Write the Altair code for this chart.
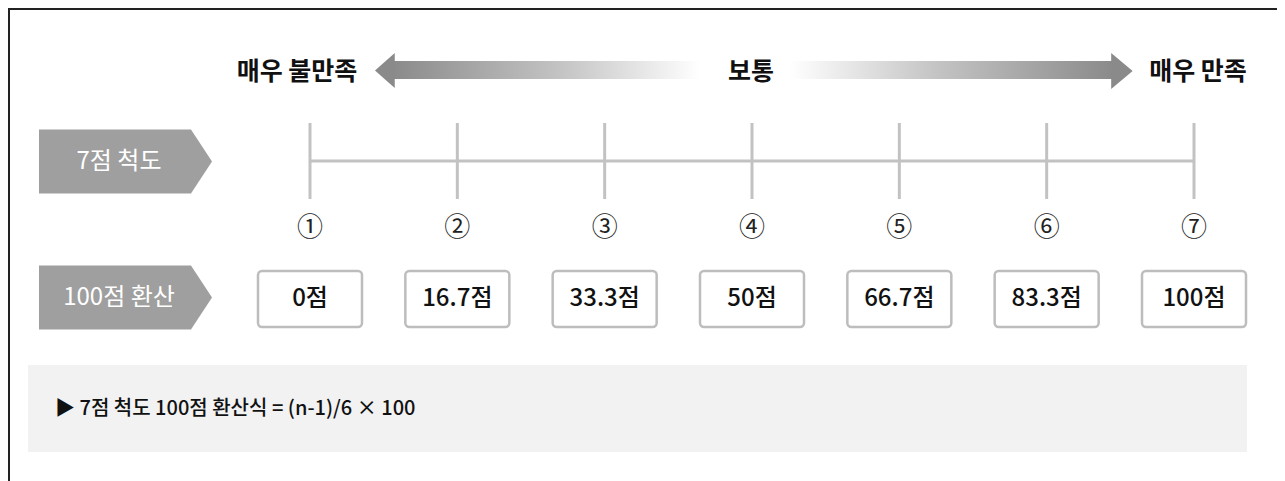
import altair as alt
import pandas as pd

# ---------------- data ----------------
scale_points = [1, 2, 3, 4, 5, 6, 7]
circled = ["①", "②", "③", "④", "⑤", "⑥", "⑦"]
converted = ["0점", "16.7점", "33.3점", "50점", "66.7점", "83.3점", "100점"]
top_labels = ["매우 불만족", "보통", "매우 만족"]
top_anchor = [1, 4, 7]
row_labels = ["7점 척도", "100점 환산"]
formula = "▶ 7점 척도 100점 환산식 = (n-1)/6 × 100"

# ---------------- layout ----------------
W, H = 1269, 473
P1 = 302.0            # plot px of scale point 1
STEP = 884.0 / 6      # px between scale points
FONT = "Noto Sans CJK KR"


def u(px):  # screen px -> scale unit
    return 1 + (px - 8 - P1) / STEP


def v(py):  # screen py -> plot py
    return py - 8


xs = alt.Scale(domain=[u(8), u(8 + W)], nice=False, zero=False)
ys = alt.Scale(domain=[0, H], reverse=True, nice=False, zero=False)


def X(f):
    return alt.X(f, type="quantitative", scale=xs, axis=None)


def Y(f):
    return alt.Y(f, type="quantitative", scale=ys, axis=None)


one = pd.DataFrame({"k": [0]})

# frame (top + left)
frame_top = alt.Chart(one).mark_rule(color="#222", strokeWidth=2).encode(
    x=alt.value(0), x2=alt.value(W), y=alt.value(1))
frame_left = alt.Chart(one).mark_rule(color="#222", strokeWidth=2).encode(
    x=alt.value(1), y=alt.value(0), y2=alt.value(H))

# formula box
fbox_df = pd.DataFrame({"x": [u(28)], "x2": [u(1247)], "y": [v(365)], "y2": [v(452)]})
fbox = alt.Chart(fbox_df).mark_rect(color="#f2f2f2").encode(
    x=X("x"), x2="x2", y=Y("y"), y2="y2")
ftext = alt.Chart(pd.DataFrame({"t": [formula], "x": [u(55)], "y": [v(409)]})).mark_text(
    align="left", baseline="middle", font=FONT, fontSize=20, fontWeight=500, color="#111"
).encode(x=X("x"), y=Y("y"), text="t:N")

# gradient arrow shafts
grad_left = alt.Gradient(gradient="linear", x1=0, x2=1, y1=0, y2=0, stops=[
    alt.GradientStop(color="#8a8a8a", offset=0),
    alt.GradientStop(color="#c4c4c4", offset=0.55),
    alt.GradientStop(color="#ffffff", offset=1)])
grad_right = alt.Gradient(gradient="linear", x1=0, x2=1, y1=0, y2=0, stops=[
    alt.GradientStop(color="#ffffff", offset=0),
    alt.GradientStop(color="#c4c4c4", offset=0.45),
    alt.GradientStop(color="#8a8a8a", offset=1)])
shaft_l = alt.Chart(pd.DataFrame({"x": [u(392)], "x2": [u(700)], "y": [v(61)], "y2": [v(79)]})).mark_rect(
    color=grad_left).encode(x=X("x"), x2="x2", y=Y("y"), y2="y2")
shaft_r = alt.Chart(pd.DataFrame({"x": [u(790)], "x2": [u(1114)], "y": [v(61)], "y2": [v(79)]})).mark_rect(
    color=grad_right).encode(x=X("x"), x2="x2", y=Y("y"), y2="y2")
head_l = alt.Chart(pd.DataFrame({"x": [u(393)], "y": [v(70.5)]})).mark_point(
    shape="M0.1,-1 L-1.03,0 L0.1,1 Z", size=35 * 35, filled=True, opacity=1,
    color="#8a8a8a", strokeWidth=0).encode(x=X("x"), y=Y("y"))
head_r = alt.Chart(pd.DataFrame({"x": [u(1113)], "y": [v(71)]})).mark_point(
    shape="M-0.1,-1 L1.09,0 L-0.1,1 Z", size=36 * 36, filled=True, opacity=1,
    color="#8a8a8a", strokeWidth=0).encode(x=X("x"), y=Y("y"))

# top labels
top_df = pd.DataFrame({"t": top_labels, "n": top_anchor, "off": [-13 / STEP, -1 / STEP, 4 / STEP]})
top_text = alt.Chart(top_df).transform_calculate(xx="datum.n + datum.off", yy=str(v(72))).mark_text(
    align="center", baseline="middle", font=FONT, fontSize=25, fontWeight="bold", color="#111"
).encode(x=X("xx"), y=Y("yy"), text="t:N")

# row label pentagons
pent_df = pd.DataFrame({"t": row_labels, "y": [v(161.5), v(297.5)]})
pent = alt.Chart(pent_df).transform_calculate(xx=str(u(125.5))).mark_point(
    shape="M-1,-0.37 L0.757,-0.37 L1,0 L0.757,0.37 L-1,0.37 Z", size=173 * 173,
    filled=True, opacity=1, color="#9f9f9f", strokeWidth=0
).encode(x=X("xx"), y=Y("y"))
pent_text = alt.Chart(pent_df).transform_calculate(xx=str(u(119))).mark_text(
    align="center", baseline="middle", font=FONT, fontSize=24, color="#ffffff"
).encode(x=X("xx"), y=Y("y"), text="t:N")

# scale line and ticks
pts_df = pd.DataFrame({"n": scale_points, "c": circled, "lab": converted})
hline = alt.Chart(pd.DataFrame({"a": [min(scale_points)], "b": [max(scale_points)]})).transform_calculate(
    yy=str(v(161))).mark_rule(color="#c2c2c2", strokeWidth=3).encode(x=X("a"), x2="b", y=Y("yy"))
ticks = alt.Chart(pts_df).transform_calculate(y1=str(v(123)), y2=str(v(199))).mark_rule(
    color="#c2c2c2", strokeWidth=3).encode(x=X("n"), y=Y("y1"), y2="y2")
circ = alt.Chart(pts_df).transform_calculate(yy=str(v(228))).mark_text(
    align="center", baseline="middle", font=FONT, fontSize=26, color="#222"
).encode(x=X("n"), y=Y("yy"), text="c:N")

# converted score boxes
half = 52 / STEP
boxes = alt.Chart(pts_df).transform_calculate(
    x1=f"datum.n - {half}", x2=f"datum.n + {half}", y1=str(v(271)), y2=str(v(327))
).mark_rect(fill="#ffffff", stroke="#bdbdbd", strokeWidth=2.5, cornerRadius=4).encode(
    x=X("x1"), x2="x2", y=Y("y1"), y2="y2")
box_text = alt.Chart(pts_df).transform_calculate(yy=str(v(299))).mark_text(
    align="center", baseline="middle", font=FONT, fontSize=24, fontWeight=500, color="#111"
).encode(x=X("n"), y=Y("yy"), text="lab:N")

chart = alt.layer(
    fbox, ftext, shaft_l, shaft_r, head_l, head_r, top_text,
    pent, pent_text, hline, ticks, circ, boxes, box_text, frame_top, frame_left
).properties(
    width=W, height=H, autosize=alt.AutoSizeParams(type="none"), padding=0
).configure_view(stroke=None).configure(background="#ffffff")

chart.save("out.html", embed_options={"renderer": "svg", "actions": False})
